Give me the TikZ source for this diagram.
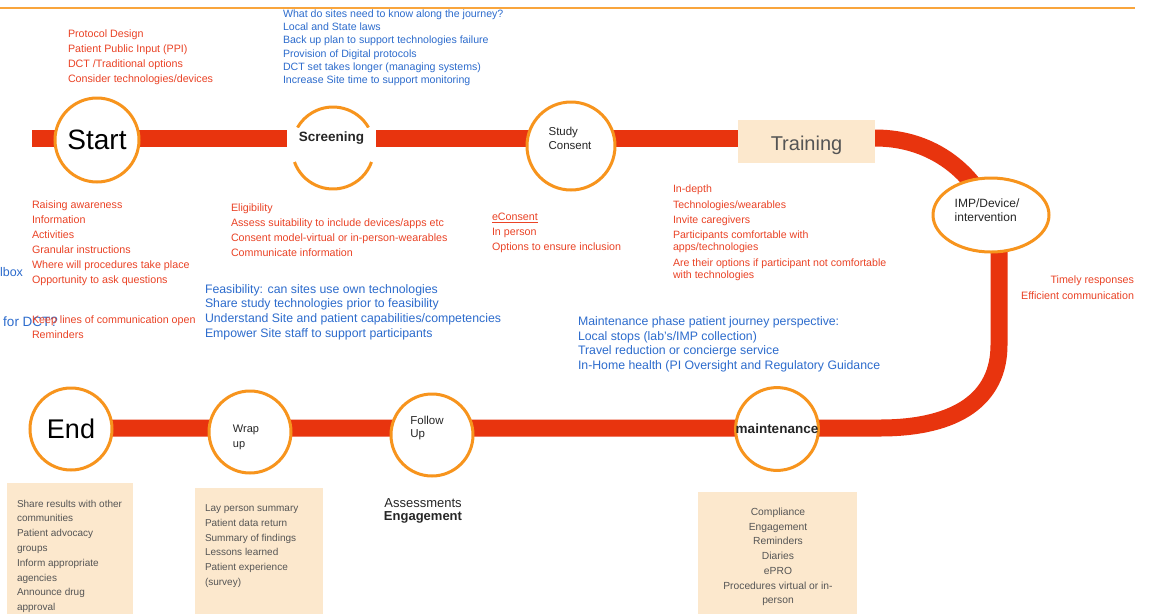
\documentclass[tikz,border=0pt]{standalone}
\usepackage{fontspec}
\setmainfont{Liberation Sans}
\usetikzlibrary{shapes.geometric,backgrounds}
\definecolor{lineRed}{RGB}{232,52,14}
\definecolor{circOrange}{RGB}{247,148,29}
\definecolor{txtRed}{RGB}{234,67,38}
\definecolor{txtBlue}{RGB}{45,108,205}
\definecolor{beige}{RGB}{252,232,205}
\definecolor{txtGray}{RGB}{85,85,85}
\definecolor{topOrange}{RGB}{249,165,60}
\tikzset{
  stage/.style={circle,draw=circOrange,line width=3pt,fill=white,minimum size=#1,inner sep=0pt,outer sep=0pt},
  orangearc/.style={draw=circOrange,line width=3pt},
  redline/.style={draw=lineRed,line width=17pt},
  txtblock/.style={align=left,anchor=base west,inner sep=0pt,outer sep=0pt},
  redtxt/.style={txtblock,text=txtRed,font=\fontsize{10.7}{15}\selectfont},
  bluesmall/.style={txtblock,text=txtBlue,font=\fontsize{10.6}{13.2}\selectfont},
  bluebig/.style={txtblock,text=txtBlue,font=\fontsize{12.3}{14.7}\selectfont},
  graytxt/.style={txtblock,text=txtGray,font=\fontsize{10}{14.8}\selectfont},
  peachbox/.style={rectangle,fill=beige,draw=none,anchor=north west,inner sep=0pt,outer sep=0pt},
  stagelabel/.style={align=left,text=black!85,inner sep=0pt}
}
\begin{document}
\begin{tikzpicture}[x=1pt,y=1pt]
\useasboundingbox (0,0) rectangle (1149,-614);
% top rule
\coordinate (tl1) at (0,-8);
\coordinate (tl2) at (1135,-8);
\draw[topOrange,line width=2.8pt] (tl1) -- (tl2);

% stages, top row
\node[stage=84pt] (start) at (97,-140) {\fontsize{28}{30}\selectfont Start};
\node[circle,minimum size=82pt,inner sep=0pt,outer sep=0pt] (screening) at (333,-148) {};
\draw[orangearc] (screening.30) arc[start angle=30,end angle=150,radius=41pt];
\draw[orangearc] (screening.200) arc[start angle=200,end angle=340,radius=41pt];
\node[fill=white,minimum width=89pt,minimum height=21pt,inner sep=0pt,font=\fontsize{13.5}{15}\selectfont\bfseries,text=black!85] (screenlabel) at (331.5,-138) {Screening};
\node[stage=88pt,label={[stagelabel,yshift=8pt,xshift=-1pt,font=\fontsize{11.5}{14}\selectfont]center:Study\\Consent}] (consent) at (571,-146) {};
\node[rectangle,fill=beige,minimum width=137pt,minimum height=43pt,inner sep=0pt,
  label={[inner sep=0pt,text=txtGray,yshift=-4pt,font=\fontsize{20}{22}\selectfont]center:Training}] (training) at (806.5,-141.5) {};
\node[ellipse,draw=circOrange,line width=3pt,fill=white,minimum width=116pt,minimum height=74pt,inner sep=0pt,
  label={[stagelabel,yshift=5pt,xshift=-4pt,font=\fontsize{12}{14.5}\selectfont]center:IMP/Device/\\intervention}] (imp) at (991,-215) {};

% stages, bottom row
\node[stage=82pt] (end) at (71,-429) {\fontsize{27}{29}\selectfont End};
\node[stage=82pt,label={[stagelabel,yshift=-5pt,xshift=-4pt,font=\fontsize{11}{15}\selectfont]center:Wrap\\up}] (wrap) at (250,-432) {};
\node[stage=82pt,label={[stagelabel,yshift=7pt,xshift=-5pt,font=\fontsize{11.5}{13.5}\selectfont]center:Follow\\Up}] (follow) at (432,-435) {};
\node[stage=82pt,font=\fontsize{13.5}{15}\selectfont\bfseries,text=black!85] (maint) at (777,-429) {maintenance};

% the red journey line
\coordinate (lstart) at (32,-138);
\coordinate (vbend) at (999,-345);
\coordinate (hright) at (880,-428);
\begin{pgfonlayer}{background}
\fill[white] (0,0) rectangle (1149,-614);
\draw[redline] (lstart) -- (lstart -| training.center);
\draw[redline] (lstart -| training.center) -- (lstart -| training.east) .. controls (935,-138) and (975,-175) .. (imp.center);
\draw[redline] (imp.center -| vbend) -- (vbend) .. controls (999,-398) and (958,-428) .. (hright) -- (hright -| end.center);
\end{pgfonlayer}

% text blocks (anchor = baseline of the last line)
\node[redtxt] (tdesign) at (68,-82) {Protocol Design\\Patient Public Input (PPI)\\DCT /Traditional options\\Consider technologies/devices};
\node[bluesmall] (tsites) at (283,-83.5) {What do sites need to know along the journey?\\Local and State laws\\Back up plan to support technologies failure\\Provision of Digital protocols\\DCT set takes longer (managing systems)\\Increase Site time to support monitoring};
\node[txtblock,anchor=base east,text=txtBlue,font=\fontsize{12.5}{15}\selectfont] (tlbox) at (23,-276) {lbox};
\node[txtblock,anchor=base east,text=txtBlue,font=\fontsize{13.5}{15}\selectfont] (tdct) at (58,-326) {for DCT?};
\node[redtxt] (taware) at (32,-283.5) {Raising awareness\\Information\\Activities\\Granular instructions\\Where will procedures take place\\Opportunity to ask questions};
\node[redtxt] (tkeep) at (32,-338.5) {Keep lines of communication open\\Reminders};
\node[redtxt] (telig) at (231,-256.5) {Eligibility\\Assess suitability to include devices/apps etc\\Consent model-virtual or in-person-wearables\\Communicate information};
\node[bluebig] (tfeas) at (205,-337.1) {Feasibility: can sites use own technologies\\Share study technologies prior to feasibility\\Understand Site and patient capabilities/competencies\\Empower Site staff to support participants};
\node[redtxt] (tecons) at (492,-250.5) {\underline{eConsent}\\In person\\Options to ensure inclusion};
\node[redtxt,font=\fontsize{10.6}{12}\selectfont] (ttrain) at (673,-278) {In-depth\\[3.5pt]Technologies/wearables\\[3pt]Invite caregivers\\[3.5pt]Participants comfortable with\\apps/technologies\\[3.5pt]Are their options if participant not comfortable\\with technologies};
\node[redtxt,anchor=base east,align=right,font=\fontsize{10.7}{16}\selectfont] (ttimely) at (1134,-299.5) {Timely responses\\Efficient communication};
\node[bluebig] (tmaintp) at (578,-369.6) {Maintenance phase patient journey perspective:\\Local stops (lab's/IMP collection)\\Travel reduction or concierge service\\In-Home health (PI Oversight and Regulatory Guidance};

% bottom boxes
\node[peachbox,minimum width=126pt,minimum height=131pt] (endbox) at (7,-483) {};
\node[peachbox,minimum width=128pt,minimum height=126pt] (wrapbox) at (195,-488) {};
\node[peachbox,minimum width=159pt,minimum height=122pt] (maintbox) at (698,-492) {};
\node[graytxt] (tend) at (17,-610.6) {Share results with other\\communities\\Patient advocacy\\groups\\Inform appropriate\\agencies\\Announce drug\\approval};
\node[graytxt] (twrap) at (205,-585.5) {Lay person summary\\Patient data return\\Summary of findings\\Lessons learned\\Patient experience\\(survey)};
\node[graytxt,align=center,anchor=base,font=\fontsize{10.3}{14.7}\selectfont] (tmaint) at (778,-603.7) {Compliance\\Engagement\\Reminders\\Diaries\\ePRO\\Procedures virtual or in-\\person};
\node[txtblock,align=center,anchor=base,text=black!85,font=\fontsize{13}{13.5}\selectfont] (tassess) at (423,-520.5) {Assessments\\\textbf{Engagement}};
\end{tikzpicture}
\end{document}
